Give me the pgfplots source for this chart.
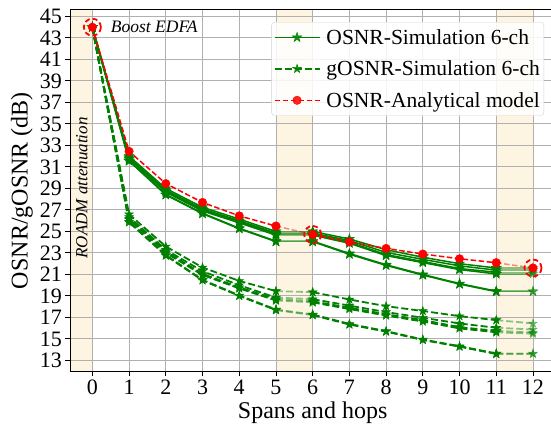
\documentclass[border=0pt]{standalone}
\usepackage{fontspec}
\setmainfont{Liberation Serif}
\usepackage{pgfplots}
\pgfplotsset{compat=1.18}
\usetikzlibrary{plotmarks}

\definecolor{mgreen}{RGB}{0,128,0}
\definecolor{mred}{RGB}{255,0,0}
\definecolor{shade}{RGB}{253,245,226}
\definecolor{gridgray}{RGB}{176,176,176}

% filled five-pointed star, like matplotlib's '*'
\pgfdeclareplotmark{fstar}{%
  \pgfpathmoveto{\pgfpointpolar{90}{\pgfplotmarksize}}%
  \pgfpathlineto{\pgfpointpolar{126}{0.382\pgfplotmarksize}}%
  \pgfpathlineto{\pgfpointpolar{162}{\pgfplotmarksize}}%
  \pgfpathlineto{\pgfpointpolar{198}{0.382\pgfplotmarksize}}%
  \pgfpathlineto{\pgfpointpolar{234}{\pgfplotmarksize}}%
  \pgfpathlineto{\pgfpointpolar{270}{0.382\pgfplotmarksize}}%
  \pgfpathlineto{\pgfpointpolar{306}{\pgfplotmarksize}}%
  \pgfpathlineto{\pgfpointpolar{342}{0.382\pgfplotmarksize}}%
  \pgfpathlineto{\pgfpointpolar{18}{\pgfplotmarksize}}%
  \pgfpathlineto{\pgfpointpolar{54}{0.382\pgfplotmarksize}}%
  \pgfpathclose
  \pgfusepathqfillstroke}

\pgfplotsset{
  sim/.style={mgreen, line width=1.5pt, mark=fstar, mark size=5pt, mark options={solid, line width=0.5pt}},
  gsim/.style={mgreen, line width=1.8pt, dash pattern=on 7pt off 3pt, mark=fstar, mark size=4.5pt, mark options={solid, line width=0.5pt}},
  ana/.style={mred, line width=1.5pt, dash pattern=on 5.5pt off 2.5pt, mark=*, mark size=4.2pt, mark options={solid, line width=0.5pt}},
  lite/.style={opacity=0.45},
}
% #1 style, #2 dark part (0-5, break, 6-11), #3 light part (5-6, break, 11-12)
\newcommand{\ser}[3]{%
  \addplot[#1, lite, forget plot] coordinates {#3};
  \addplot[#1, forget plot] coordinates {#2};}

\begin{document}
\begin{tikzpicture}
\begin{axis}[
    scale only axis,
    width=484.4pt, height=361pt,
    xmin=-0.6, xmax=12.6,
    ymin=12, ymax=45.6,
    xtick={0,1,...,12},
    ytick={13,15,...,45},
    grid=major,
    major grid style={gridgray, line width=0.9pt},
    tick align=outside, tick pos=left,
    major tick length=5pt,
    tick style={black, line width=0.9pt},
    axis line style={black, line width=1pt},
    xlabel={Spans and hops},
    ylabel={OSNR/gOSNR (dB)},
    ticklabel style={font=\fontsize{22}{26}\selectfont},
    label style={font=\fontsize{24}{28}\selectfont},
    /pgf/number format/assume math mode=true,
    unbounded coords=jump,
    set layers,
    legend cell align=left,
    legend style={at={(1,1)}, anchor=north east, xshift=-11pt, yshift=-12pt,
        draw=gray!35, rounded corners=3pt, fill=white, fill opacity=0.85, text opacity=1,
        font=\fontsize{21.5}{25}\selectfont, inner xsep=2pt, inner ysep=5pt,
        row sep=11pt,
        /tikz/every odd column/.append style={column sep=4pt}},
    legend image code/.code={\draw[mark repeat=2, mark phase=2, #1] plot coordinates {(0pt,0pt) (22.5pt,0pt) (45pt,0pt)};},
]

% ROADM / boost regions
\addplot[fill=shade, draw=none, on layer=axis background, forget plot] coordinates {(-0.6,12) (0,12) (0,45.6) (-0.6,45.6)};
\addplot[fill=shade, draw=none, on layer=axis background, forget plot] coordinates {(5,12) (6,12) (6,45.6) (5,45.6)};
\addplot[fill=shade, draw=none, on layer=axis background, forget plot] coordinates {(11,12) (12,12) (12,45.6) (11,45.6)};

% gOSNR simulation, 6 channels
\ser{gsim}{(0,44) (1,26.60) (2,23.60) (3,21.65) (4,20.40) (5,19.45) (5.5,nan) (6,19.35) (7,18.67) (8,18.05) (9,17.60) (10,17.12) (11,16.75)}{(5,19.45) (6,19.35) (6.5,nan) (11,16.75) (12,16.44)}
\ser{gsim}{(0,44) (1,26.35) (2,23.30) (3,21.30) (4,20.00) (5,18.85) (5.5,nan) (6,18.70) (7,18.10) (8,17.50) (9,16.97) (10,16.44) (11,16.04)}{(5,18.85) (6,18.70) (6.5,nan) (11,16.04) (12,15.88)}
\ser{gsim}{(0,44) (1,26.20) (2,23.15) (3,21.05) (4,19.80) (5,18.70) (5.5,nan) (6,18.50) (7,17.90) (8,17.30) (9,16.75) (10,16.10) (11,15.75)}{(5,18.70) (6,18.50) (6.5,nan) (11,15.75) (12,15.60)}
\ser{gsim}{(0,44) (1,26.10) (2,23.00) (3,20.95) (4,19.70) (5,18.58) (5.5,nan) (6,18.40) (7,17.78) (8,17.18) (9,16.62) (10,15.98) (11,15.62)}{(5,18.58) (6,18.40) (6.5,nan) (11,15.62) (12,15.48)}
\ser{gsim}{(0,44) (1,25.90) (2,22.80) (3,20.50) (4,19.05) (5,17.74) (5.5,nan) (6,17.28) (7,16.40) (8,15.73) (9,14.95) (10,14.33) (11,13.65)}{(5,17.74) (6,17.28) (6.5,nan) (11,13.65) (12,13.65)}
\ser{gsim}{(0,44) (1,25.85) (2,22.75) (3,20.45) (4,19.00) (5,17.68) (5.5,nan) (6,17.22) (7,16.34) (8,15.68) (9,14.90) (10,14.28) (11,13.60)}{(5,17.68) (6,17.22) (6.5,nan) (11,13.60) (12,13.60)}

% OSNR simulation, 6 channels
\ser{sim}{(0,44) (1,32.00) (2,29.00) (3,27.25) (4,26.15) (5,25.00) (5.5,nan) (6,25.00) (7,24.30) (8,23.30) (9,22.60) (10,22.00) (11,21.60)}{(5,25.00) (6,25.00) (6.5,nan) (11,21.60) (12,21.60)}
\ser{sim}{(0,44) (1,31.90) (2,28.85) (3,27.10) (4,26.00) (5,24.85) (5.5,nan) (6,24.85) (7,24.15) (8,23.05) (9,22.40) (10,21.80) (11,21.40)}{(5,24.85) (6,24.85) (6.5,nan) (11,21.40) (12,21.40)}
\ser{sim}{(0,44) (1,31.80) (2,28.75) (3,27.00) (4,25.90) (5,24.75) (5.5,nan) (6,24.75) (7,24.00) (8,22.85) (9,22.20) (10,21.55) (11,21.20)}{(5,24.75) (6,24.75) (6.5,nan) (11,21.20) (12,21.20)}
\ser{sim}{(0,44) (1,31.75) (2,28.65) (3,26.90) (4,25.80) (5,24.65) (5.5,nan) (6,24.65) (7,23.90) (8,22.75) (9,22.10) (10,21.45) (11,21.05)}{(5,24.65) (6,24.65) (6.5,nan) (11,21.05) (12,21.05)}
\ser{sim}{(0,44) (1,31.60) (2,28.45) (3,26.70) (4,25.30) (5,24.10) (5.5,nan) (6,24.10) (7,22.95) (8,21.90) (9,21.00) (10,20.15) (11,19.45)}{(5,24.10) (6,24.10) (6.5,nan) (11,19.45) (12,19.45)}
\ser{sim}{(0,44) (1,31.55) (2,28.40) (3,26.65) (4,25.25) (5,24.05) (5.5,nan) (6,24.05) (7,22.88) (8,21.84) (9,20.94) (10,20.10) (11,19.40)}{(5,24.05) (6,24.05) (6.5,nan) (11,19.40) (12,19.40)}

% analytical model
\ser{ana}{(0,44) (1,32.45) (2,29.45) (3,27.70) (4,26.45) (5,25.50) (5.5,nan) (6,24.72) (7,24.02) (8,23.42) (9,22.90) (10,22.46) (11,22.09)}{(5,25.50) (6,24.72) (6.5,nan) (11,22.09) (12,21.60)}
\addplot[only marks, mark=*, mark size=4.2pt, mred, forget plot] coordinates {(12,21.60)};

% highlighted points
\addplot[only marks, mark=o, mark size=8.5pt, mark options={draw=mred, line width=1.8pt, dash pattern=on 5pt off 3pt}, forget plot] coordinates {(0,44) (6,24.72) (12,21.60)};

\addlegendimage{mgreen, line width=1.5pt, mark=fstar, mark size=5pt, mark options={solid, line width=0.5pt}}
\addlegendentry{OSNR-Simulation 6-ch}
\addlegendimage{mgreen, line width=1.8pt, dash pattern=on 7pt off 3pt, mark=fstar, mark size=4.5pt, mark options={solid, line width=0.5pt}}
\addlegendentry{gOSNR-Simulation 6-ch}
\addlegendimage{mred, line width=1.5pt, dash pattern=on 5.5pt off 2.5pt, mark=*, mark size=4.2pt, mark options={solid, line width=0.5pt}}
\addlegendentry{OSNR-Analytical model}

\node[anchor=west, inner sep=0pt, font=\itshape\fontsize{17.5}{20}\selectfont] at (axis cs:0.5,44) {Boost EDFA};
\node[rotate=90, inner sep=0pt, font=\itshape\fontsize{17}{20}\selectfont] at (axis cs:-0.29,29.05) {ROADM attenuation};
\end{axis}
\pgfresetboundingbox
\useasboundingbox ([xshift=-70.3pt,yshift=-53pt]current axis.south west) rectangle ([xshift=-4pt,yshift=10pt]current axis.north east);
\end{tikzpicture}
\end{document}
